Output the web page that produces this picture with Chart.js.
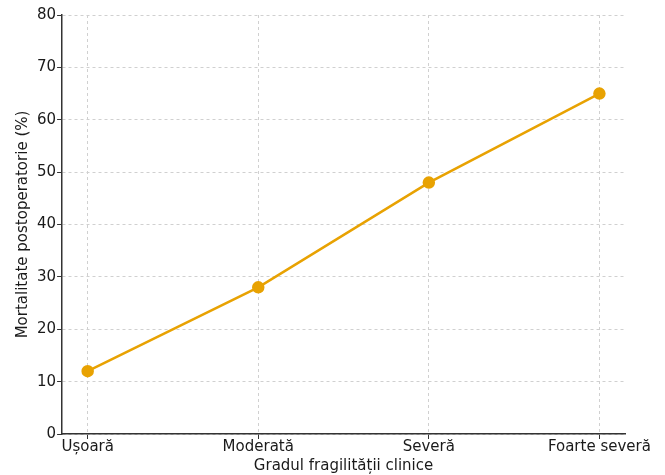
<!DOCTYPE html>
<html>
<head>
<meta charset="utf-8">
<script src="https://cdn.jsdelivr.net/npm/chart.js@4"></script>
<style>
  body { margin: 0; background: #fff; }
  #wrap { width: 665px; height: 475px; }
</style>
</head>
<body>
<div id="wrap"><canvas id="myChart"></canvas></div>
<script>
const categories = ['Ușoară', 'Moderată', 'Severă', 'Foarte severă'];
const mortality = [12, 28, 48, 65];
const yTicks = [0, 10, 20, 30, 40, 50, 60, 70, 80];

Chart.defaults.font.family = 'DejaVu Sans';
Chart.defaults.font.size = 15;
Chart.defaults.color = '#1a1a1a';

const ctx = document.getElementById('myChart');

const myChart = new Chart(ctx, {
  type: 'line',
  data: {
    datasets: [{
      label: 'Mortalitate postoperatorie (%)',
      data: mortality.map((v, i) => ({ x: i, y: v })),
      borderColor: '#E8A202',
      backgroundColor: '#E8A202',
      borderWidth: 2.5,
      pointRadius: 5,
      pointHoverRadius: 5
    }]
  },
  options: {
    responsive: true,
    maintainAspectRatio: false,
    animation: false,
    layout: { padding: { top: 15, right: 40, left: 14, bottom: 0 } },
    plugins: {
      legend: { display: false },
      tooltip: { enabled: false }
    },
    scales: {
      x: {
        type: 'linear',
        min: -0.15,
        max: 3.15,
        afterBuildTicks: axis => { axis.ticks = categories.map((c, i) => ({ value: i })); },
        ticks: {
          callback: v => categories[v],
          maxRotation: 0,
          padding: -1
        },
        grid: { color: '#d0d0d0', tickColor: '#333', tickLength: 5, tickBorderDash: [] },
        border: { color: '#333', width: 1.5, dash: [3, 3] },
        title: { display: true, text: 'Gradul fragilității clinice', padding: { top: 2, bottom: 0 } }
      },
      y: {
        min: 0,
        max: 80,
        afterBuildTicks: axis => { axis.ticks = yTicks.map(v => ({ value: v })); },
        ticks: { padding: 1 },
        grid: { color: '#d0d0d0', tickColor: '#333', tickLength: 5, tickBorderDash: [] },
        border: { color: '#333', width: 1.5, dash: [3, 3] },
        title: { display: true, text: 'Mortalitate postoperatorie (%)', padding: { top: 0, bottom: 4 } }
      }
    }
  }
});
</script>
</body>
</html>
